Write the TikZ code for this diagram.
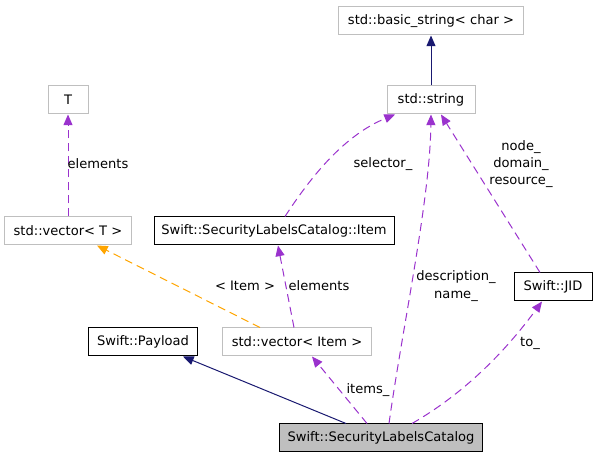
\documentclass[tikz,border=0pt]{standalone}
\usepackage{fontspec}
\setmainfont{DejaVu Sans}
\usetikzlibrary{arrows.meta,calc}
\definecolor{usecol}{HTML}{9A32CD}
\definecolor{inhcol}{HTML}{191970}
\definecolor{tplcol}{HTML}{FFA500}
\definecolor{stdgray}{HTML}{BFBFBF}

\begin{document}
\begin{tikzpicture}[x=0.75pt,y=-0.75pt,font=\fontsize{9.8}{13}\selectfont,
  cls/.style={draw=black,line width=0.75pt,minimum height=21pt,inner xsep=2pt,inner ysep=0pt},
  ext/.style={cls,draw=stdgray},
  uses/.style={usecol,line width=0.75pt,dash pattern=on 6pt off 3.75pt,-{Triangle[length=8pt,width=6.75pt]}},
  inh/.style={inhcol,line width=0.75pt,-{Triangle[length=8pt,width=6.75pt]}},
  tpl/.style={uses,tplcol}]
\useasboundingbox (0,0) rectangle (593,459);
\node[ext,minimum width=139pt] (bstr) at (431,21) {std::basic\_string< char >};
\node[ext,minimum width=66pt] (str) at (431,100) {std::string};
\node[ext,minimum width=30pt] (T) at (68,100) {T};
\node[ext,minimum width=95pt] (vecT) at (68,231) {std::vector< T >};
\node[cls,minimum width=180pt] (item) at (274,231) {Swift::SecurityLabelsCatalog::Item};
\node[cls,minimum width=58.5pt] (jid) at (553,287) {Swift::JID};
\node[cls,minimum width=82pt] (payload) at (143,342) {Swift::Payload};
\node[ext,minimum width=112pt] (vecitem) at (297,342) {std::vector< Item >};
\node[cls,fill=stdgray,minimum width=152pt] (cat) at (381,438) {Swift::SecurityLabelsCatalog};
\draw[inh] (str.north)--(bstr.south);
\draw[uses] (vecT.north)--(T.south);
\draw[tpl] ($(vecitem.north)+(-37,0)$)--($(vecT.south)+(29,0)$);
\draw[uses] ($(vecitem.north)+(-3,0)$)--($(item.south)+(4,0)$);
\draw[uses] ($(item.north)+(11,0)$) .. controls (312,175) and (345,135) .. ($(str.south)+(-36,0)$);
\draw[uses] ($(cat.north)+(8,0)$) .. controls (402,330) and (430,200) .. (str.south);
\draw[uses] ($(jid.north)+(-13,0)$)--($(str.south)+(10,0)$);
\draw[uses] ($(cat.north)+(31,0)$) .. controls (470,390) and (510,345) .. ($(jid.south)+(-11,0)$);
\draw[uses] ($(cat.north)+(-14,0)$)--($(vecitem.south)+(15,0)$);
\draw[inh] ($(cat.north)+(-35,0)$)--($(payload.south)+(40,0)$);
\node (lelemT) at (98,164) {elements};
\node (lsel) at (383,164) {selector\_};
\node[align=center] (ljid) at (521,164) {node\_\\domain\_\\resource\_};
\node (ltpl) at (245,286) {< Item >};
\node (lelemI) at (319,286) {elements};
\node[align=center] (ldesc) at (456,286) {description\_\\name\_};
\node (litems) at (368,390) {items\_};
\node (lto) at (530,343) {to\_};
\end{tikzpicture}
\end{document}
